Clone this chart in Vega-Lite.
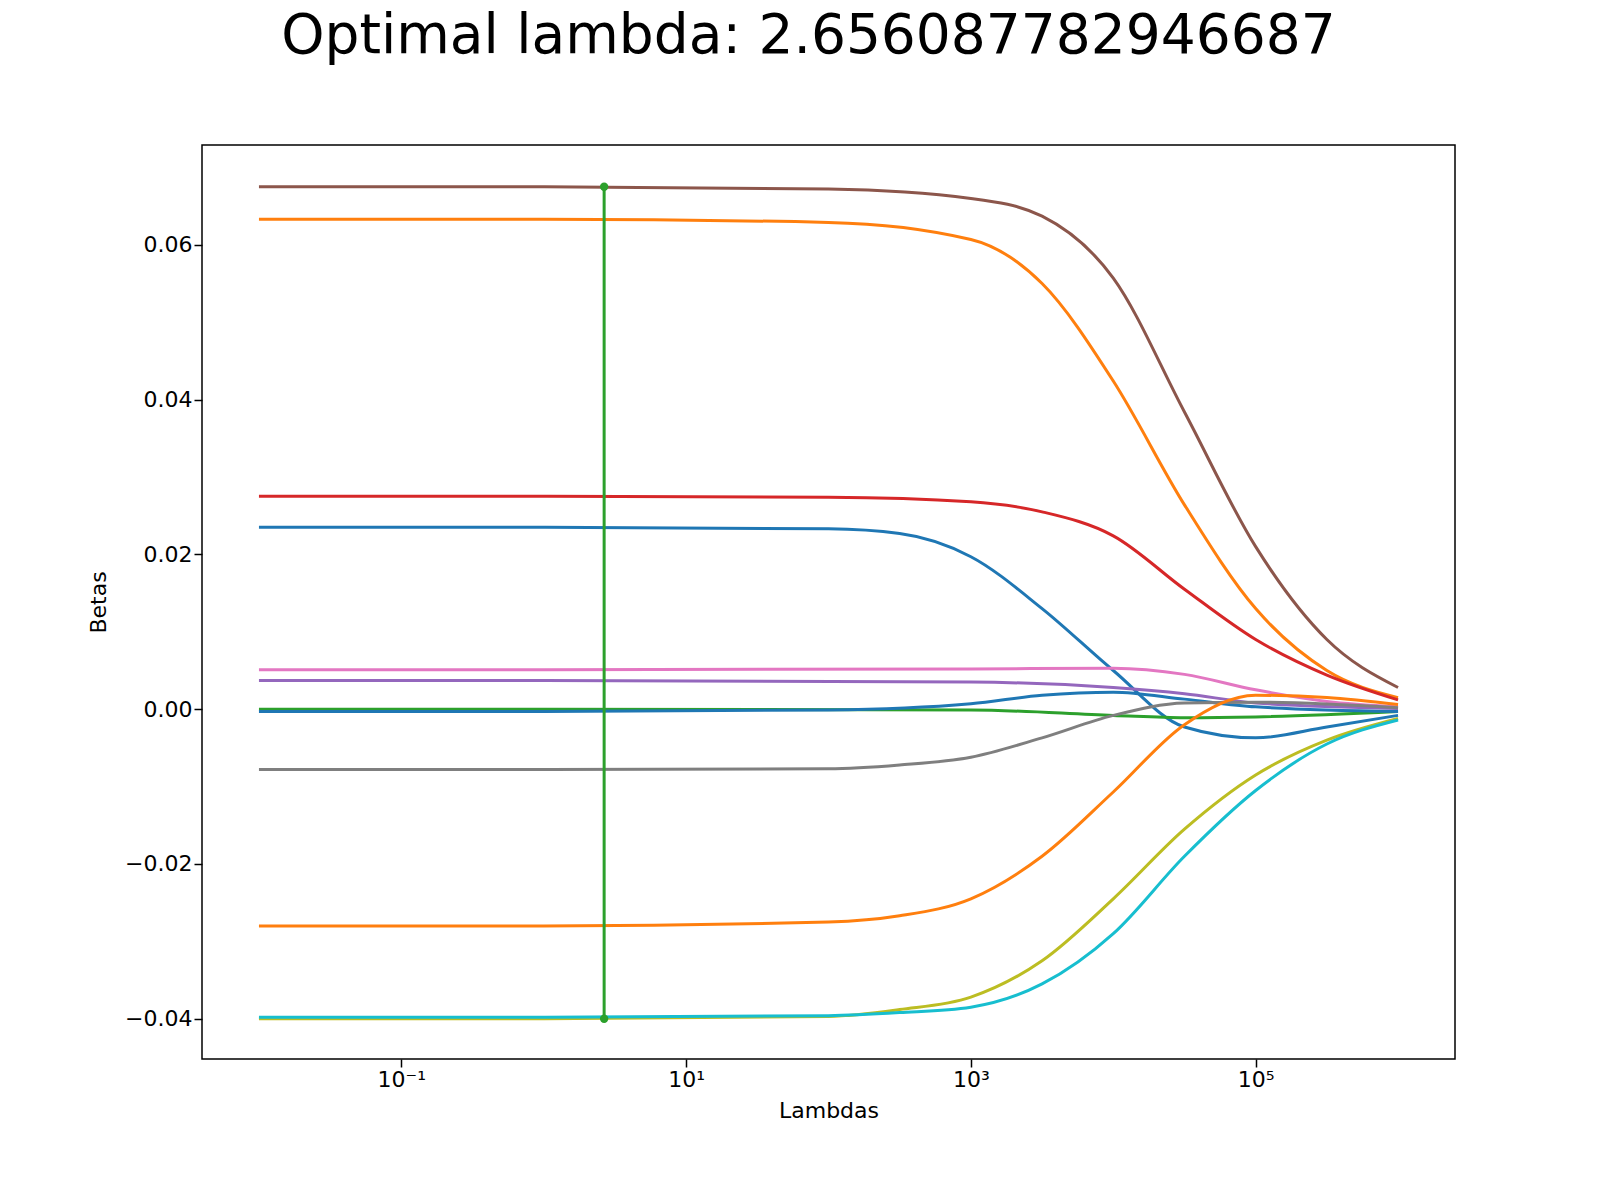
{
  "$schema": "https://vega.github.io/schema/vega-lite/v6.json",
  "width": 1253,
  "height": 914,
  "autosize": {"type": "none"},
  "padding": {"left": 202, "top": 145, "right": 145, "bottom": 141},
  "background": "white",
  "title": {"text": "Optimal lambda: 2.656087782946687", "fontSize": 55, "font": "DejaVu Sans", "fontWeight": "normal", "anchor": "middle", "frame": "group", "dx": -20, "offset": 80, "color": "black"},
  "config": {
    "view": {"stroke": "black", "strokeWidth": 1.5},
    "axis": {"grid": false, "domain": false, "tickColor": "black", "tickSize": 8, "tickWidth": 1.5, "labelFont": "DejaVu Sans", "labelFontSize": 22, "labelColor": "black", "titleFont": "DejaVu Sans", "titleFontSize": 22, "titleFontWeight": "normal", "titleColor": "black"}
  },
  "datasets": {
    "paths": [
      {"s": "a", "l": 0.01, "b": 0.0675}, {"s": "a", "l": 1, "b": 0.0675}, {"s": "a", "l": 100, "b": 0.0672}, {"s": "a", "l": 1000, "b": 0.066}, {"s": "a", "l": 3162, "b": 0.0637}, {"s": "a", "l": 10000, "b": 0.0557}, {"s": "a", "l": 31623, "b": 0.0384}, {"s": "a", "l": 100000, "b": 0.021}, {"s": "a", "l": 316228, "b": 0.009}, {"s": "a", "l": 1000000, "b": 0.0028},
      {"s": "b", "l": 0.01, "b": 0.0633}, {"s": "b", "l": 1, "b": 0.0633}, {"s": "b", "l": 100, "b": 0.0629}, {"s": "b", "l": 1000, "b": 0.0607}, {"s": "b", "l": 3162, "b": 0.055}, {"s": "b", "l": 10000, "b": 0.0424}, {"s": "b", "l": 31623, "b": 0.0264}, {"s": "b", "l": 100000, "b": 0.013}, {"s": "b", "l": 316228, "b": 0.005}, {"s": "b", "l": 1000000, "b": 0.0015},
      {"s": "c", "l": 0.01, "b": 0.0275}, {"s": "c", "l": 1, "b": 0.0275}, {"s": "c", "l": 100, "b": 0.0274}, {"s": "c", "l": 1000, "b": 0.0268}, {"s": "c", "l": 3162, "b": 0.0255}, {"s": "c", "l": 10000, "b": 0.0224}, {"s": "c", "l": 31623, "b": 0.0155}, {"s": "c", "l": 100000, "b": 0.009}, {"s": "c", "l": 316228, "b": 0.0044}, {"s": "c", "l": 1000000, "b": 0.0012},
      {"s": "d", "l": 0.01, "b": 0.0235}, {"s": "d", "l": 1, "b": 0.0235}, {"s": "d", "l": 100, "b": 0.0233}, {"s": "d", "l": 316, "b": 0.0227}, {"s": "d", "l": 1000, "b": 0.0197}, {"s": "d", "l": 3162, "b": 0.013}, {"s": "d", "l": 10000, "b": 0.005}, {"s": "d", "l": 31623, "b": -0.0023}, {"s": "d", "l": 100000, "b": -0.0037}, {"s": "d", "l": 316228, "b": -0.0023}, {"s": "d", "l": 1000000, "b": -0.0008},
      {"s": "e", "l": 0.01, "b": 0.0051}, {"s": "e", "l": 1, "b": 0.0051}, {"s": "e", "l": 1000, "b": 0.0052}, {"s": "e", "l": 10000, "b": 0.0053}, {"s": "e", "l": 31623, "b": 0.0045}, {"s": "e", "l": 100000, "b": 0.0025}, {"s": "e", "l": 316228, "b": 0.001}, {"s": "e", "l": 1000000, "b": 0.0003},
      {"s": "f", "l": 0.01, "b": 0.0037}, {"s": "f", "l": 1, "b": 0.0037}, {"s": "f", "l": 1000, "b": 0.0035}, {"s": "f", "l": 10000, "b": 0.0028}, {"s": "f", "l": 31623, "b": 0.002}, {"s": "f", "l": 100000, "b": 0.0008}, {"s": "f", "l": 1000000, "b": 0.0001},
      {"s": "g", "l": 0.01, "b": 0.0}, {"s": "g", "l": 1, "b": 0.0}, {"s": "g", "l": 1000, "b": -0.0001}, {"s": "g", "l": 10000, "b": -0.0008}, {"s": "g", "l": 31623, "b": -0.0011}, {"s": "g", "l": 100000, "b": -0.001}, {"s": "g", "l": 1000000, "b": -0.0003},
      {"s": "h", "l": 0.01, "b": -0.0003}, {"s": "h", "l": 1, "b": -0.0003}, {"s": "h", "l": 100, "b": -0.0001}, {"s": "h", "l": 1000, "b": 0.0007}, {"s": "h", "l": 3162, "b": 0.0018}, {"s": "h", "l": 10000, "b": 0.0022}, {"s": "h", "l": 31623, "b": 0.0013}, {"s": "h", "l": 100000, "b": 0.0003}, {"s": "h", "l": 1000000, "b": -0.0003},
      {"s": "i", "l": 0.01, "b": -0.0078}, {"s": "i", "l": 1, "b": -0.0078}, {"s": "i", "l": 100, "b": -0.0077}, {"s": "i", "l": 316, "b": -0.0072}, {"s": "i", "l": 1000, "b": -0.0062}, {"s": "i", "l": 3162, "b": -0.0037}, {"s": "i", "l": 10000, "b": -0.0008}, {"s": "i", "l": 31623, "b": 0.0008}, {"s": "i", "l": 100000, "b": 0.0009}, {"s": "i", "l": 1000000, "b": 0.0002},
      {"s": "j", "l": 0.01, "b": -0.028}, {"s": "j", "l": 1, "b": -0.028}, {"s": "j", "l": 100, "b": -0.0275}, {"s": "j", "l": 316, "b": -0.0267}, {"s": "j", "l": 1000, "b": -0.0245}, {"s": "j", "l": 3162, "b": -0.019}, {"s": "j", "l": 10000, "b": -0.0107}, {"s": "j", "l": 31623, "b": -0.002}, {"s": "j", "l": 100000, "b": 0.0018}, {"s": "j", "l": 316228, "b": 0.0015}, {"s": "j", "l": 1000000, "b": 0.0006},
      {"s": "k", "l": 0.01, "b": -0.04}, {"s": "k", "l": 1, "b": -0.04}, {"s": "k", "l": 100, "b": -0.0397}, {"s": "k", "l": 316, "b": -0.0388}, {"s": "k", "l": 1000, "b": -0.0372}, {"s": "k", "l": 3162, "b": -0.0325}, {"s": "k", "l": 10000, "b": -0.0245}, {"s": "k", "l": 31623, "b": -0.0155}, {"s": "k", "l": 100000, "b": -0.0085}, {"s": "k", "l": 316228, "b": -0.004}, {"s": "k", "l": 1000000, "b": -0.0012},
      {"s": "m", "l": 0.01, "b": -0.0398}, {"s": "m", "l": 1, "b": -0.0398}, {"s": "m", "l": 100, "b": -0.0396}, {"s": "m", "l": 316, "b": -0.0392}, {"s": "m", "l": 1000, "b": -0.0385}, {"s": "m", "l": 3162, "b": -0.0355}, {"s": "m", "l": 10000, "b": -0.029}, {"s": "m", "l": 31623, "b": -0.019}, {"s": "m", "l": 100000, "b": -0.0105}, {"s": "m", "l": 316228, "b": -0.0045}, {"s": "m", "l": 1000000, "b": -0.0014}
    ],
    "opt": [{"l": 2.656087782946687, "lo": -0.04, "hi": 0.0675}],
    "optpts": [{"l": 2.656087782946687, "b": -0.04}, {"l": 2.656087782946687, "b": 0.0675}]
  },
  "layer": [
    {
      "data": {"name": "paths"},
      "mark": {"type": "line", "interpolate": "monotone", "strokeWidth": 3},
      "encoding": {
        "x": {"field": "l", "type": "quantitative", "scale": {"type": "log", "domain": [0.003981, 2511886], "nice": false}, "title": "Lambdas", "axis": {"values": [0.1, 10, 1000, 100000], "labelExpr": "datum.value < 1 ? '10⁻¹' : datum.value < 100 ? '10¹' : datum.value < 10000 ? '10³' : '10⁵'", "titlePadding": 10}},
        "y": {"field": "b", "type": "quantitative", "scale": {"domain": [-0.0452, 0.0729], "nice": false, "zero": false}, "title": "Betas", "axis": {"values": [-0.04, -0.02, 0, 0.02, 0.04, 0.06], "format": ".2f", "labelExpr": "replace(datum.label, '-', '−')", "titlePadding": 14}},
        "color": {"field": "s", "type": "nominal", "legend": null, "scale": {"domain": ["a", "b", "c", "d", "e", "f", "g", "h", "i", "j", "k", "m"], "range": ["#8c564b", "#ff7f0e", "#d62728", "#1f77b4", "#e377c2", "#9467bd", "#2ca02c", "#1f77b4", "#7f7f7f", "#ff7f0e", "#bcbd22", "#17becf"]}}
      }
    },
    {
      "data": {"name": "opt"},
      "mark": {"type": "rule", "color": "#2ca02c", "strokeWidth": 3},
      "encoding": {"x": {"field": "l", "type": "quantitative"}, "y": {"field": "lo", "type": "quantitative"}, "y2": {"field": "hi"}}
    },
    {
      "data": {"name": "optpts"},
      "mark": {"type": "circle", "color": "#2ca02c", "size": 70, "opacity": 1},
      "encoding": {"x": {"field": "l", "type": "quantitative"}, "y": {"field": "b", "type": "quantitative"}}
    }
  ]
}
